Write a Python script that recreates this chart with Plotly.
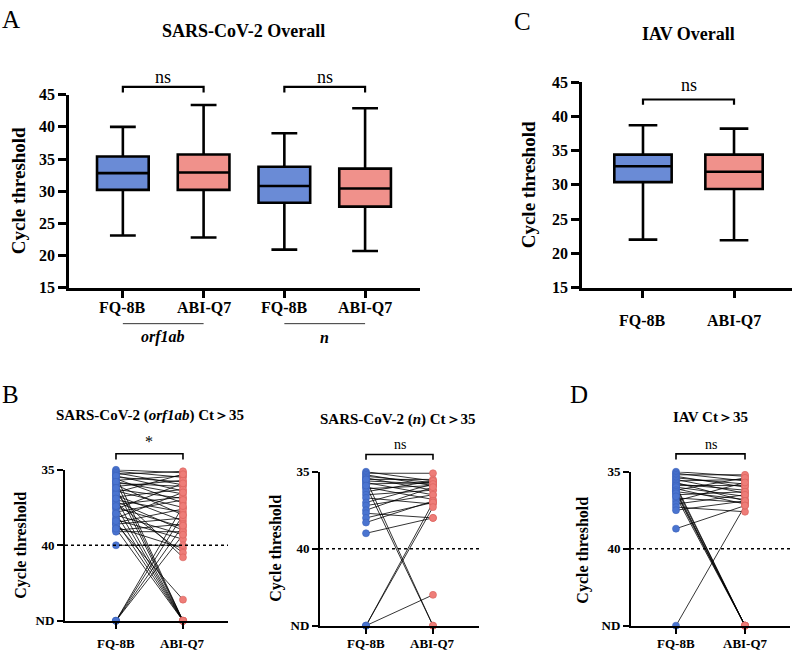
import plotly.graph_objects as go

W, H = 797, 659
SERIF = "Liberation Serif"
BLUE = "#6a8bd6"
RED = "#f0918b"
BLUE_PT = "#4a74d0"
RED_PT = "#ee7d78"
ND_LEVEL = 45  # axis position used for "not detected"

# ---------------- data ----------------
# Panel A (SARS-CoV-2 overall): box statistics of Ct values
a_method = ["FQ-8B", "ABI-Q7", "FQ-8B", "ABI-Q7"]
a_target = ["orf1ab", "orf1ab", "n", "n"]
a_low = [23.1, 22.8, 20.9, 20.7]
a_q1 = [30.2, 30.2, 28.2, 27.6]
a_med = [32.8, 32.9, 30.8, 30.4]
a_q3 = [35.4, 35.7, 33.8, 33.5]
a_high = [40.0, 43.4, 39.0, 42.9]
a_sig = ["ns", "ns"]

# Panel C (IAV overall)
c_method = ["FQ-8B", "ABI-Q7"]
c_low = [22.0, 21.9]
c_q1 = [30.4, 29.4]
c_med = [32.7, 31.9]
c_q3 = [34.4, 34.4]
c_high = [38.7, 38.2]
c_sig = ["ns"]

# Panel B / D: paired Ct values of samples with Ct > 35 ("ND" = not detected)
b_method = ["FQ-8B", "ABI-Q7"]
orf_fq = [35.0, 35.1, 35.2, 35.3, 35.4, 35.5, 35.6, 35.7, 35.8, 35.9, 36.0, 36.1,
          36.3, 36.4, 36.5, 36.7, 36.8, 37.0, 37.1, 37.3, 37.5, 37.6, 37.8, 38.0,
          38.2, 38.3, 38.5, 38.6, 38.8, 39.0, 39.1, 40.0, 37.2, 36.6, 38.6,
          35.4, 35.8, 36.2, 36.9, 37.4, 37.9, 38.4, 38.9,
          "ND", "ND", "ND", "ND"]
orf_abi = [35.2, 35.5, 36.0, 35.1, 36.4, 35.8, 37.2, 35.4, 36.6, 36.1, 38.0, 35.7,
           36.9, 37.5, 35.3, 38.4, 36.3, 37.8, 39.0, 36.8, 38.8, 35.9, 37.0, 39.3,
           36.5, 39.6, 37.6, 38.2, 40.2, 38.6, 39.1, 40.0, 40.5, 40.8, 43.6,
           "ND", "ND", "ND", "ND", "ND", "ND", "ND", "ND",
           37.4, 38.0, 38.7, 39.3]

n_fq = [35.0, 35.1, 35.2, 35.3, 35.4, 35.5, 35.6, 35.7, 35.8, 36.0, 36.1, 36.3,
        36.5, 36.7, 37.0, 37.2, 37.5, 37.7, 38.0, 38.3, 39.0,
        35.5, 35.9, "ND", "ND", "ND"]
n_abi = [35.6, 35.1, 35.9, 35.7, 36.2, 35.5, 35.8, 36.5, 35.7, 36.8, 35.9, 35.6,
         36.2, 37.1, 35.8, 36.5, 36.0, 38.0, 37.0, 36.9, 38.0,
         "ND", "ND", 37.0, 37.3, 43.0]

iav_fq = [35.0, 35.1, 35.2, 35.3, 35.4, 35.5, 35.6, 35.7, 35.8, 35.9, 36.0, 36.1,
          36.2, 36.3, 36.5, 36.7, 36.9, 37.1, 37.3, 37.5, 38.7,
          35.9, 36.0, 36.2, 36.3, 36.4, 36.6, "ND"]
iav_abi = [35.3, 35.6, 35.2, 36.0, 35.8, 36.4, 35.5, 36.9, 36.2, 35.9, 36.6, 37.1,
           35.4, 36.8, 36.3, 37.0, 35.7, 36.5, 37.6, 36.9, 37.2,
           "ND", "ND", "ND", "ND", "ND", "ND", 37.2]
b_sig = ["*", "ns", "ns"]

# ---------------- layout helpers ----------------
def dom_x(l, r):
    return [l / W, r / W]

def dom_y(top, bottom):
    return [1 - bottom / H, 1 - top / H]

def ct(v):
    return ND_LEVEL if v == "ND" else v

# panel: (x px domain, y px domain (top, bottom), x range, y range, tick-label centre px)
AX = {
    "A": ((69, 420), (89, 287), [-0.667, 3.68], [15, 45], 307),
    "C": ((582, 792), (76, 287), [-0.67, 1.637], [15, 45], 321),
    "B1": ((65, 228), (474, 629), [-0.761, 1.672], [ND_LEVEL, 35], 652),
    "B2": ((320, 479), (476, 634), [-0.687, 1.687], [ND_LEVEL, 35], 652),
    "D": ((631, 790), (476, 634), [-0.652, 1.652], [ND_LEVEL, 35], 652),
}
IDS = {"A": ("x", "y"), "C": ("x2", "y2"), "B1": ("x3", "y3"), "B2": ("x4", "y4"), "D": ("x5", "y5")}

def xfrac(panel, v):
    r = AX[panel][2]
    return (v - r[0]) / (r[1] - r[0])

fig = go.Figure()

# ---------------- box plots ----------------
def add_boxes(panel, methods, low, q1, med, q3, high, width):
    xa, ya = IDS[panel]
    for i, m in enumerate(methods):
        fig.add_trace(go.Box(
            x=[i], q1=[q1[i]], median=[med[i]], q3=[q3[i]],
            lowerfence=[low[i]], upperfence=[high[i]],
            fillcolor=BLUE if m == "FQ-8B" else RED,
            line=dict(color="black", width=2.6),
            width=width, whiskerwidth=0.5, boxpoints=False,
            xaxis=xa, yaxis=ya, showlegend=False, hoverinfo="skip"))

add_boxes("A", a_method, a_low, a_q1, a_med, a_q3, a_high, 0.64)
add_boxes("C", c_method, c_low, c_q1, c_med, c_q3, c_high, 0.63)

# ---------------- paired plots ----------------
def add_paired(panel, fq, abi):
    xa, ya = IDS[panel]
    lx, ly = [], []
    for f, a in zip(fq, abi):
        lx += [0, 1, None]
        ly += [ct(f), ct(a), None]
    fig.add_trace(go.Scatter(x=lx, y=ly, mode="lines",
                             line=dict(color="black", width=0.8),
                             xaxis=xa, yaxis=ya, showlegend=False, hoverinfo="skip"))
    fig.add_trace(go.Scatter(x=[0] * len(fq), y=[ct(v) for v in fq], mode="markers",
                             marker=dict(color=BLUE_PT, size=7, line=dict(color="#3a62b8", width=0.6)),
                             cliponaxis=False, xaxis=xa, yaxis=ya, showlegend=False))
    fig.add_trace(go.Scatter(x=[1] * len(abi), y=[ct(v) for v in abi], mode="markers",
                             marker=dict(color=RED_PT, size=7, line=dict(color="#d9605b", width=0.6)),
                             cliponaxis=False, xaxis=xa, yaxis=ya, showlegend=False))

add_paired("B1", orf_fq, orf_abi)
add_paired("B2", n_fq, n_abi)
add_paired("D", iav_fq, iav_abi)

# ---------------- axes ----------------
def axis(font_size, lw, ticklen, **kw):
    d = dict(showline=True, linecolor="black", linewidth=lw, ticks="outside",
             ticklen=ticklen, tickwidth=lw, tickcolor="black", showgrid=False,
             zeroline=False, fixedrange=True,
             tickfont=dict(family=SERIF, size=font_size, color="black", weight="bold"))
    d.update(kw)
    return d

PANEL_METHODS = {"A": a_method, "C": c_method, "B1": b_method, "B2": b_method, "D": b_method}

layout_axes = {}
for panel, (xd, yd, xr, yr, _) in AX.items():
    xa, ya = IDS[panel]
    xk = "xaxis" if xa == "x" else "xaxis" + xa[1:]
    yk = "yaxis" if ya == "y" else "yaxis" + ya[1:]
    xt = dict(tickvals=list(range(len(PANEL_METHODS[panel]))), showticklabels=False)
    if panel in ("A", "C"):
        layout_axes[xk] = axis(16, 2.6, 8, domain=dom_x(*xd), range=xr, anchor=ya, **xt)
        layout_axes[yk] = axis(16, 2.6, 8, domain=dom_y(*yd), range=yr, anchor=xa,
                               tickvals=list(range(15, 46, 5)))
    else:
        layout_axes[xk] = axis(13, 2.0, 6, domain=dom_x(*xd), range=xr, anchor=ya, **xt)
        layout_axes[yk] = axis(13, 2.0, 6, domain=dom_y(*yd), range=yr, anchor=xa,
                               tickvals=[35, 40, ND_LEVEL], ticktext=["35", "40", "ND"])

# ---------------- shapes: brackets, dotted lines, underlines ----------------
shapes = []

def bracket(panel, i0, i1, ytop, ytick, lw):
    xa, ya = IDS[panel]
    x0, x1 = xfrac(panel, i0), xfrac(panel, i1)
    shapes.append(dict(type="path", xref=xa + " domain", yref=ya + " domain",
                       path=f"M {x0},{ytick} L {x0},{ytop} L {x1},{ytop} L {x1},{ytick}",
                       line=dict(color="black", width=lw)))

bracket("A", 0, 1, 1.041, 1.012, 2.2)
bracket("A", 2, 3, 1.041, 1.012, 2.2)
bracket("C", 0, 1, 0.915, 0.890, 2.2)
bracket("B1", 0, 1, 1.106, 1.068, 1.6)
bracket("B2", 0, 1, 1.112, 1.078, 1.6)
bracket("D", 0, 1, 1.116, 1.080, 1.6)

for panel in ["B1", "B2", "D"]:
    xa, ya = IDS[panel]
    shapes.append(dict(type="line", xref=xa + " domain", yref=ya, x0=0, x1=1, y0=40, y1=40,
                       line=dict(color="black", width=1.6, dash="dot")))

# target underlines for panel A
for j in range(2):
    x0, x1 = xfrac("A", 2 * j), xfrac("A", 2 * j + 1)
    shapes.append(dict(type="line", xref="x domain", yref="y domain", x0=x0, x1=x1,
                       y0=-0.187, y1=-0.187, line=dict(color="#333", width=1.0)))

# ---------------- annotations ----------------
ann = []

def text_px(txt, px, py, size, bold=True, italic=False, angle=0, xanchor="center"):
    ann.append(dict(text=txt, x=px / W, y=1 - py / H, xref="paper", yref="paper",
                    showarrow=False, xanchor=xanchor, yanchor="middle", textangle=angle,
                    font=dict(family=SERIF, size=size, color="black",
                              weight="bold" if bold else "normal",
                              style="italic" if italic else "normal")))

# category (x tick) labels, placed at the category positions of each x axis
for panel, (_, _, _, _, label_py) in AX.items():
    xa, _ya = IDS[panel]
    size = 16 if panel in ("A", "C") else 13
    for i, m in enumerate(PANEL_METHODS[panel]):
        ann.append(dict(text=m, x=i, xref=xa, y=1 - label_py / H, yref="paper",
                        showarrow=False, xanchor="center", yanchor="middle",
                        font=dict(family=SERIF, size=size, color="black", weight="bold")))

# panel letters
text_px("A", 0, 12, 25, bold=False, xanchor="left")
text_px("C", 512, 14, 25, bold=False, xanchor="left")
text_px("B", 0, 397, 25, bold=False, xanchor="left")
text_px("D", 568, 397, 25, bold=False, xanchor="left")

# titles
text_px("SARS-CoV-2 Overall", 243, 24, 18)
text_px("IAV Overall", 688, 27, 18)
text_px("SARS-CoV-2 (<i>orf1ab</i>) Ct＞35", 150, 418, 15)
text_px("SARS-CoV-2 (<i>n</i>) Ct＞35", 398, 422, 15)
text_px("IAV Ct＞35", 710, 420, 15)

# y titles
text_px("Cycle threshold", 18, 188, 19, angle=-90)
text_px("Cycle threshold", 528, 182, 19, angle=-90)
text_px("Cycle threshold", 21, 552, 16, angle=-90)
text_px("Cycle threshold", 276, 555, 16, angle=-90)
text_px("Cycle threshold", 583, 557, 16, angle=-90)

# target labels
for j, t in enumerate(["orf1ab", "n"]):
    xc = (xfrac("A", 2 * j) + xfrac("A", 2 * j + 1)) / 2
    ann.append(dict(text=t, x=xc, y=-0.258, xref="x domain", yref="y domain", showarrow=False,
                    xanchor="center", yanchor="middle",
                    font=dict(family=SERIF, size=16, color="black", weight="bold", style="italic")))

# significance labels
def sig(panel, xmid, yd, label, size):
    xa, ya = IDS[panel]
    ann.append(dict(text=label, x=xmid, y=yd, xref=xa, yref=ya + " domain", showarrow=False,
                    xanchor="center", yanchor="middle",
                    font=dict(family=SERIF, size=size, color="black")))

sig("A", 0.5, 1.09, a_sig[0], 18)
sig("A", 2.5, 1.09, a_sig[1], 18)
sig("C", 0.5, 0.985, c_sig[0], 18)
sig("B1", 0.5, 1.19, b_sig[0], 16)
sig("B2", 0.5, 1.18, b_sig[1], 14)
sig("D", 0.5, 1.18, b_sig[2], 14)

fig.update_layout(width=W, height=H, margin=dict(l=0, r=0, t=0, b=0),
                  plot_bgcolor="white", paper_bgcolor="white", showlegend=False,
                  font=dict(family=SERIF),
                  boxmode="overlay", shapes=shapes, annotations=ann, **layout_axes)

fig.write_html("out.html")
